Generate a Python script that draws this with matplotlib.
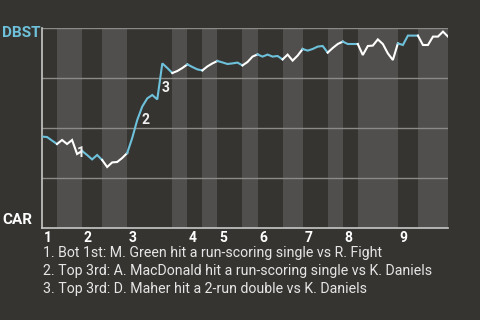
import matplotlib
matplotlib.use('Agg')
import matplotlib.pyplot as plt
import matplotlib.transforms as mtransforms
import numpy as np

# win probability for DBST after each plate appearance
win_prob = [0.457, 0.455, 0.437, 0.42, 0.44, 0.42, 0.44, 0.37, 0.385, 0.365,
            0.343, 0.365, 0.34, 0.305, 0.328, 0.33, 0.35, 0.375, 0.45, 0.54,
            0.607, 0.648, 0.665, 0.643, 0.823, 0.80, 0.775, 0.785, 0.80, 0.818,
            0.805, 0.793, 0.788, 0.808, 0.823, 0.835, 0.828, 0.82, 0.823, 0.827,
            0.813, 0.83, 0.857, 0.868, 0.857, 0.867, 0.857, 0.86, 0.843, 0.867,
            0.837, 0.862, 0.895, 0.887, 0.895, 0.907, 0.91, 0.877, 0.90, 0.92,
            0.932, 0.92, 0.92, 0.92, 0.865, 0.91, 0.912, 0.943, 0.92, 0.873,
            0.84, 0.923, 0.915, 0.962, 0.962, 0.962, 0.915, 0.915, 0.957, 0.957,
            0.982, 0.957]

# plate appearance index where each half inning starts (top 1 .. bot 9), plus end
half_starts = [0, 3, 8, 12, 17, 26, 29, 32, 35, 40, 43, 48, 52, 57, 60, 63, 71, 75, 81]
inning_labels = ["1", "2", "3", "4", "5", "6", "7", "8", "9"]

# key plays: (index of PA, marker)
key_plays = [(7, "1"), (20, "2"), (24, "3")]
notes = [
    "1. Bot 1st: M. Green hit a run-scoring single vs R. Fight",
    "2. Top 3rd: A. MacDonald hit a run-scoring single vs K. Daniels",
    "3. Top 3rd: D. Maher hit a 2-run double vs K. Daniels",
]
away_team = "DBST"
home_team = "CAR"

bg = "#363431"
band = "#504f4d"
blue = "#6ec1db"
white = "#ffffff"

plt.rcParams['font.family'] = ['Roboto', 'DejaVu Sans']

fig = plt.figure(figsize=(4.8, 3.2), dpi=100, facecolor=bg)
ax = fig.add_axes([42/480, 1 - 228/320, 406/480, 200/320])
ax.set_facecolor(bg)

x = np.arange(len(win_prob))
n_total = half_starts[-1]
ax.set_xlim(0, n_total)
ax.set_ylim(0, 1)

# shade bottom halves, colour line by batting team
for i in range(len(half_starts) - 1):
    a, b = half_starts[i], half_starts[i + 1]
    if i % 2 == 1:
        ax.axvspan(a, b, color=band, lw=0, zorder=0)
    col = blue if i % 2 == 0 else white
    ax.plot(x[a:b + 1], win_prob[a:b + 1], color=col, lw=1.5, zorder=3,
            solid_joinstyle='miter')

for yv in [0.25, 0.5, 0.75, 1.0]:
    ax.axhline(yv, color="#8c8a87", lw=1, zorder=1)

for s in ["top", "right"]:
    ax.spines[s].set_visible(False)
for s in ["left", "bottom"]:
    ax.spines[s].set_color("#c8c8c8")
    ax.spines[s].set_linewidth(1.2)
ax.set_xticks([])
ax.set_yticks([])

# inning numbers below the axis
trans = mtransforms.blended_transform_factory(ax.transData, ax.transAxes)
for j, lab in enumerate(inning_labels):
    ax.text(half_starts[2 * j] + 0.35, -0.05, lab, transform=trans, ha='left',
            va='center', color=white, fontsize=10, fontweight='bold')

# key play markers
for idx, lab in key_plays:
    mx = idx - 0.5
    my = (win_prob[idx - 1] + win_prob[idx]) / 2
    ax.annotate(lab, (mx, my), xytext=(4.5, -4.5), textcoords='offset points',
                ha='center', va='center', color="#f0f0f0", fontsize=10,
                fontweight='bold', zorder=4)

fig.text(2/480, 1 - 33/320, away_team, color=blue, fontsize=11,
         fontweight='bold', ha='left', va='center')
fig.text(2/480, 1 - 220/320, home_team, color=white, fontsize=11,
         fontweight='bold', ha='left', va='center')

for k, line in enumerate(notes):
    fig.text(43/480, 1 - (253 + 18 * k)/320, line, color="#e6e6e6",
             fontsize=10.2, ha='left', va='center')

fig.savefig("out.png", dpi=100, facecolor=bg)
